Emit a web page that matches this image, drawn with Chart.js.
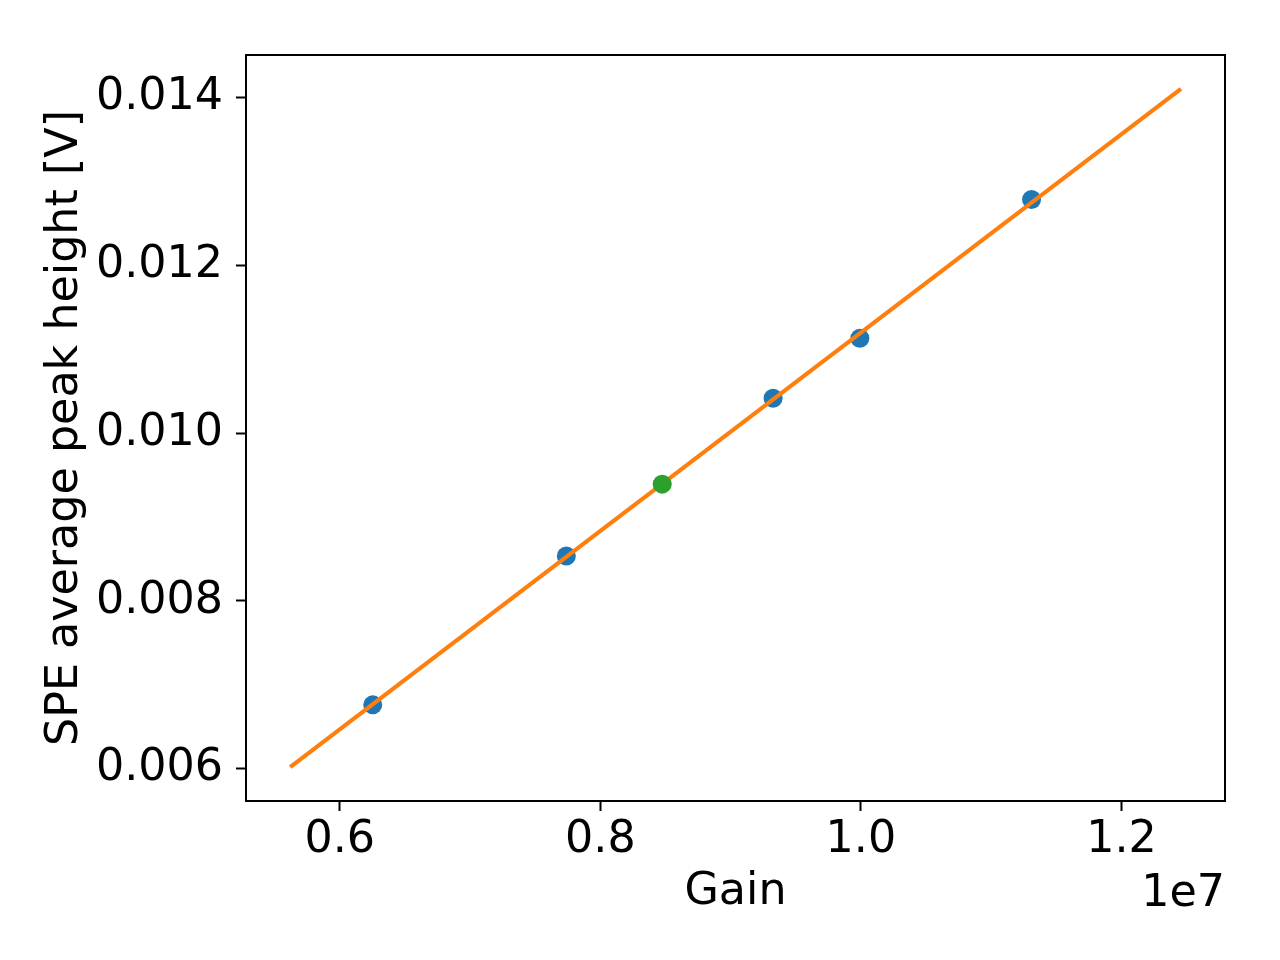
<!DOCTYPE html>
<html>
<head>
<meta charset="utf-8">
<script src="https://cdn.jsdelivr.net/npm/chart.js@4/dist/chart.umd.min.js"></script>
<style>
   body { margin: 0; background: #fff; }
   canvas { display: block; }
</style>
</head>
<body>
<canvas id="gainChart" width="1280" height="960"></canvas>
<script>
// Measured points (blue)
const gainValues = [6.253e6, 7.739e6, 9.326e6, 9.992e6, 11.31e6];
const peakHeights = [0.006762, 0.008536, 0.010417, 0.011131, 0.012786];

// Highlighted point (green)
const highlightGain = [8.475e6];
const highlightHeight = [0.009393];

// Linear fit, drawn between its two end points
const fitGain = [5.619e6, 12.457e6];
const fitHeight = [0.006020, 0.014104];

// Axis ticks and limits
const xTickValues = [0.6e7, 0.8e7, 1.0e7, 1.2e7];
const yTickValues = [0.006, 0.008, 0.010, 0.012, 0.014];
const xLimits = [5.28e6, 12.795e6];
const yLimits = [0.005616, 0.014508];

const FONT = "'DejaVu Sans', sans-serif";
const FONT_SIZE = 44.4;

function toPoints(xs, ys) {
   return xs.map((x, i) => ({ x: x, y: ys[i] }));
}

// Draws the box around the plot and the axis multiplier text
const frameAndOffset = {
   id: "frameAndOffset",
   afterDraw(chart) {
      const ctx = chart.ctx;
      const area = chart.chartArea;
      ctx.save();
      ctx.strokeStyle = "#000";
      ctx.lineWidth = 2;
      ctx.strokeRect(area.left, area.top, area.right - area.left, area.bottom - area.top);
      ctx.fillStyle = "#000";
      ctx.font = FONT_SIZE + "px " + FONT;
      ctx.textAlign = "right";
      ctx.textBaseline = "alphabetic";
      ctx.fillText("1e7", area.right, 906);
      ctx.restore();
   },
};

const ctx = document.getElementById("gainChart").getContext("2d");
new Chart(ctx, {
   type: "scatter",
   data: {
      datasets: [
         {
            label: "highlight",
            data: toPoints(highlightGain, highlightHeight),
            backgroundColor: "#2ca02c",
            borderWidth: 0,
            pointRadius: 9.5,
            order: 0,
         },
         {
            type: "line",
            label: "fit",
            data: toPoints(fitGain, fitHeight),
            borderColor: "#ff7f0e",
            borderWidth: 4.2,
            pointRadius: 0,
            fill: false,
            order: 1,
         },
         {
            label: "measured",
            data: toPoints(gainValues, peakHeights),
            backgroundColor: "#1f77b4",
            borderWidth: 0,
            pointRadius: 9.5,
            order: 2,
         },
      ],
   },
   options: {
      responsive: false,
      devicePixelRatio: 1,
      animation: false,
      layout: {
         padding: { top: 55, right: 55, left: 0, bottom: 0 },
      },
      plugins: {
         legend: { display: false },
         tooltip: { enabled: false },
      },
      scales: {
         x: {
            type: "linear",
            min: xLimits[0],
            max: xLimits[1],
            border: { display: false },
            grid: {
               drawOnChartArea: false,
               drawTicks: true,
               tickLength: 10,
               tickWidth: 2,
               color: "#000",
            },
            ticks: {
               color: "#000",
               font: { family: FONT, size: FONT_SIZE },
               padding: 3,
               maxRotation: 0,
               callback: (value) => (value / 1e7).toFixed(1),
            },
            afterBuildTicks: (scale) => {
               scale.ticks = xTickValues.map((v) => ({ value: v }));
            },
            afterFit: (scale) => {
               scale.height = 159;
            },
            title: {
               display: true,
               text: "Gain",
               color: "#000",
               font: { family: FONT, size: FONT_SIZE },
               padding: { top: 0, bottom: 41 },
            },
         },
         y: {
            type: "linear",
            min: yLimits[0],
            max: yLimits[1],
            border: { display: false },
            grid: {
               drawOnChartArea: false,
               drawTicks: true,
               tickLength: 10,
               tickWidth: 2,
               color: "#000",
            },
            ticks: {
               color: "#000",
               font: { family: FONT, size: FONT_SIZE },
               padding: 13,
               callback: (value) => value.toFixed(3),
            },
            afterBuildTicks: (scale) => {
               scale.ticks = yTickValues.map((v) => ({ value: v }));
            },
            afterFit: (scale) => {
               scale.width = 246;
            },
            title: {
               display: true,
               text: "SPE average peak height [V]",
               color: "#000",
               font: { family: FONT, size: FONT_SIZE },
               padding: { top: 39, bottom: 0 },
            },
         },
      },
   },
   plugins: [frameAndOffset],
});
</script>
</body>
</html>
